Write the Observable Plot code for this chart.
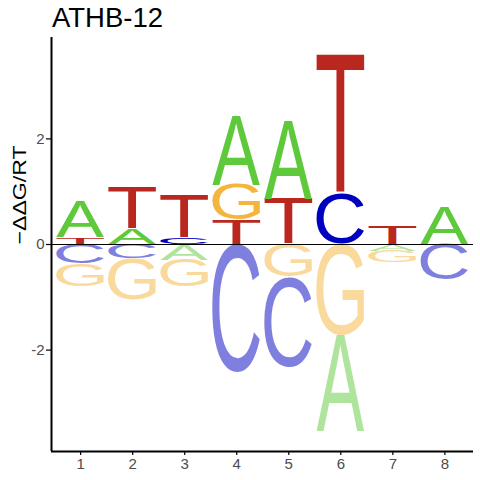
<!DOCTYPE html>
<html><head><meta charset="utf-8">
<script src="https://cdn.jsdelivr.net/npm/d3@7"></script>
<script src="https://cdn.jsdelivr.net/npm/@observablehq/plot@0.6"></script>
<style>
body{margin:0;background:#fff;font-family:"Liberation Sans",Arial,sans-serif;}
#title{height:37px;position:relative;}
#title span{position:absolute;left:52px;top:4px;font-size:27.5px;line-height:1;color:#000;white-space:nowrap;}
#chart svg{display:block;}
</style></head><body>
<div id="title"><span>ATHB-12</span></div>
<div id="chart"></div>
<script>
// ---- data ----
const positions = [1, 2, 3, 4, 5, 6, 7, 8];
const valA = [0.675, 0.30, -0.30, 1.309, 1.477, -1.82, -0.11, 0.71];
const valC = [-0.37, -0.27, 0.12, -2.42, -1.706, 0.942, -0.02, -0.67];
const valG = [-0.43, -0.775, -0.51, 0.663, -0.62, -1.725, -0.21, 0];
const valT = [0.127, 0.78, 0.81, 0.455, 0.853, 2.628, 0.34, 0];
const letters = ["A", "C", "G", "T"];
const letterColors = ["#5FC93C", "#0000C0", "#F5B43C", "#BA271F"];
const yTicks = [-2, 0, 2];
const yLabel = "\u2212\u0394\u0394G/RT";

// ---- build stacked letter table ----
const series = {A: valA, C: valC, G: valG, T: valT};
const rows = [];
positions.forEach((p, i) => {
  const items = letters.map(L => ({letter: L, value: series[L][i]})).filter(d => d.value !== 0);
  const pos = items.filter(d => d.value > 0).sort((a, b) => a.value - b.value);
  const neg = items.filter(d => d.value < 0).sort((a, b) => b.value - a.value);
  let c = 0;
  for (const d of pos) { rows.push({pos: p, letter: d.letter, value: d.value, bottom: c, top: c + d.value, mid: c + d.value / 2}); c += d.value; }
  c = 0;
  for (const d of neg) { rows.push({pos: p, letter: d.letter, value: d.value, bottom: c + d.value, top: c, mid: c + d.value / 2}); c += d.value; }
});

const hw = 0.46;
const xDomain = [0.44, 8.55];
const yDomain = [-3.92, 3.92];

const plot = Plot.plot({
  width: 480, height: 443,
  marginLeft: 51, marginRight: 7, marginTop: 0, marginBottom: 29,
  x: {domain: xDomain, label: null},
  y: {domain: yDomain, label: null},
  color: {domain: letters, range: letterColors},
  style: {fontFamily: "'Liberation Sans', Arial, sans-serif", fontSize: "15px", background: "#fff", overflow: "visible"},
  marks: [
    Plot.text(rows, {x: "pos", y: "mid", text: "letter", fill: "letter",
      fillOpacity: d => d.value < 0 ? 0.5 : 1, fontSize: 100}),
    Plot.ruleY([0], {stroke: "#000", strokeWidth: 1}),
    Plot.axisX({ticks: positions, tickFormat: d => String(d), tickSize: 4, tickPadding: 3,
      stroke: "#000", strokeWidth: 1.2, fill: "#4D4D4D", fontSize: 15, label: null}),
    Plot.axisY({ticks: yTicks, tickFormat: d => String(d), tickSize: 5, tickPadding: 2,
      stroke: "#000", strokeWidth: 1.2, fill: "#4D4D4D", fontSize: 15, label: null}),
    Plot.ruleX([xDomain[0]], {stroke: "#000", strokeWidth: 2}),
    Plot.ruleY([yDomain[0]], {stroke: "#000", strokeWidth: 2}),
    Plot.text([yLabel], {frameAnchor: "left", rotate: -90, dx: -32, fontSize: 19, fill: "#000"})
  ]
});
document.getElementById("chart").append(plot);

// ---- stretch each letter glyph into its stack rectangle using Plot's scales ----
function scaleFn(name) {
  const s = plot.scale(name);
  if (s && typeof s.apply === "function") return v => s.apply(v);
  return d3.scaleLinear(s.domain, s.range);
}
const X = scaleFn("x"), Y = scaleFn("y");
const fam = "Liberation Sans";
const ctx = document.createElement("canvas").getContext("2d");
ctx.font = "100px '" + fam + "'";
const ink = {};
for (const L of letters) {
  const m = ctx.measureText(L);
  let l = -m.actualBoundingBoxLeft, r = m.actualBoundingBoxRight, t = -m.actualBoundingBoxAscent, b = m.actualBoundingBoxDescent;
  if (!(r - l > 1) || !(b - t > 1)) { l = 0; r = m.width || 66; t = -71.6; b = 0; }
  ink[L] = {l, r, t, b};
}
// find the group holding the letter texts
const svg = plot.tagName.toLowerCase() === "svg" ? plot : plot.querySelector("svg");
let g = null;
for (const cand of svg.querySelectorAll("g")) {
  const ts = Array.from(cand.children).filter(e => e.tagName.toLowerCase() === "text");
  if (ts.length === rows.length && ts.every((t, i) => t.textContent === rows[i].letter)) { g = cand; break; }
}
if (g) {
  g.removeAttribute("transform");
  g.setAttribute("text-anchor", "start");
  g.setAttribute("font-family", fam);
  g.setAttribute("font-size", "100");
  const texts = Array.from(g.children).filter(e => e.tagName.toLowerCase() === "text");
  texts.forEach((el, i) => {
    const r = rows[i];
    const k = ink[r.letter];
    const L = X(r.pos - hw), R = X(r.pos + hw);
    const T = Y(r.top), B = Y(r.bottom);
    const sx = (R - L) / (k.r - k.l), sy = (B - T) / (k.b - k.t);
    ["x", "y", "dx", "dy"].forEach(a => el.removeAttribute(a));
    el.setAttribute("text-anchor", "start");
    el.setAttribute("font-family", fam);
    el.setAttribute("font-size", "100");
    el.setAttribute("transform", `translate(${L},${T}) scale(${sx},${sy}) translate(${-k.l},${-k.t})`);
  });
}
for (const t of svg.querySelectorAll("text")) {
  if (t.textContent === yLabel) { t.setAttribute("textLength", "99"); t.setAttribute("lengthAdjust", "spacingAndGlyphs"); }
}
</script>
</body></html>
